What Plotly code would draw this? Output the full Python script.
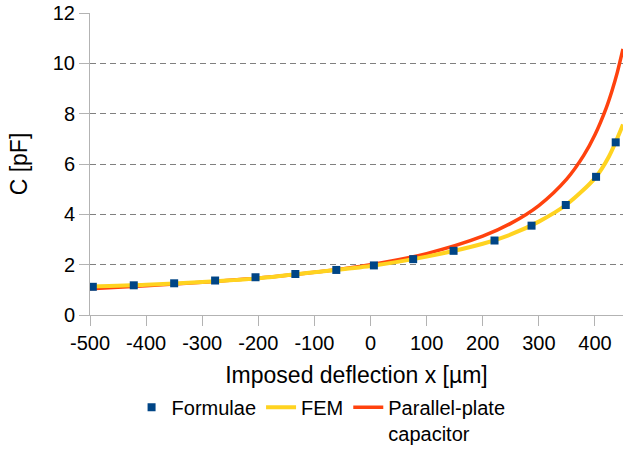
import plotly.graph_objects as go

# Formulae (markers)
formulae_x = [-495, -422, -350, -277, -205, -134, -61, 6, 76, 148, 221, 287, 348, 402, 437]
formulae_c = [1.12, 1.18, 1.26, 1.37, 1.50, 1.63, 1.79, 1.97, 2.22, 2.55, 2.96, 3.55, 4.37, 5.49, 6.86]

# FEM (yellow line)
fem_x = [-500, -400, -300, -200, -100, 0, 100, 200, 250, 300, 350, 400, 425, 450]
fem_c = [1.13, 1.20, 1.31, 1.46, 1.70, 1.95, 2.32, 2.83, 3.20, 3.71, 4.40, 5.44, 6.30, 7.57]

# Parallel-plate capacitor (red line)
pp_x = [-500, -400, -300, -200, -100, 0, 100, 200, 250, 300, 350, 380, 400, 420, 430, 440, 450]
pp_c = [1.04, 1.16, 1.30, 1.47, 1.70, 2.00, 2.44, 3.13, 3.64, 4.35, 5.41, 6.34, 7.16, 8.22, 8.88, 9.65, 10.57]

x_ticks = [-500, -400, -300, -200, -100, 0, 100, 200, 300, 400]
y_ticks = [0, 2, 4, 6, 8, 10, 12]

FONT = "Liberation Sans, Arial, sans-serif"

fig = go.Figure()
fig.add_trace(go.Scatter(
    x=pp_x, y=pp_c, mode="lines", name="Parallel-plate<br>capacitor",
    line=dict(color="#FF420E", width=3.5, shape="spline", smoothing=0.8),
    legendrank=3))
fig.add_trace(go.Scatter(
    x=fem_x, y=fem_c, mode="lines", name="FEM",
    line=dict(color="#FFD320", width=4, shape="spline", smoothing=0.8),
    legendrank=2))
fig.add_trace(go.Scatter(
    x=formulae_x, y=formulae_c, mode="markers", name="Formulae",
    marker=dict(symbol="square", size=8, color="#004586"),
    legendrank=1))

fig.update_layout(
    width=623, height=452,
    margin=dict(l=90, r=0, t=13, b=137),
    paper_bgcolor="white", plot_bgcolor="white",
    font=dict(family=FONT, size=20, color="#000000"),
    showlegend=True,
    legend=dict(
        orientation="h", x=0.078, xref="paper", y=0.142, yref="container",
        xanchor="left", yanchor="top",
        font=dict(family=FONT, size=20, color="#000000"),
        itemwidth=30, valign="top", traceorder="normal", tracegroupgap=0,
        bgcolor="rgba(0,0,0,0)"),
)
fig.update_xaxes(
    range=[-500, 450], tickvals=x_ticks, ticktext=[str(v) for v in x_ticks],
    showgrid=False, zeroline=False, showline=True, linecolor="#b3b3b3", linewidth=1,
    ticks="outside", ticklen=10, tickcolor="#b3b3b3", automargin=False,
    tickfont=dict(family=FONT, size=20, color="#000000"),
    title=dict(text="Imposed deflection x [µm]", font=dict(family=FONT, size=23, color="#000000"), standoff=20),
)
fig.update_yaxes(
    range=[0, 12], tickvals=y_ticks,
    showgrid=True, gridcolor="#808080", griddash="6px,4px", gridwidth=1,
    zeroline=False, showline=True, linecolor="#b3b3b3", linewidth=1,
    ticks="outside", ticklen=10, tickcolor="#b3b3b3", automargin=False,
    tickfont=dict(family=FONT, size=20, color="#000000"),
    title=dict(text="C [pF]", font=dict(family=FONT, size=23, color="#000000"), standoff=18),
)

fig.write_html("out.html")
